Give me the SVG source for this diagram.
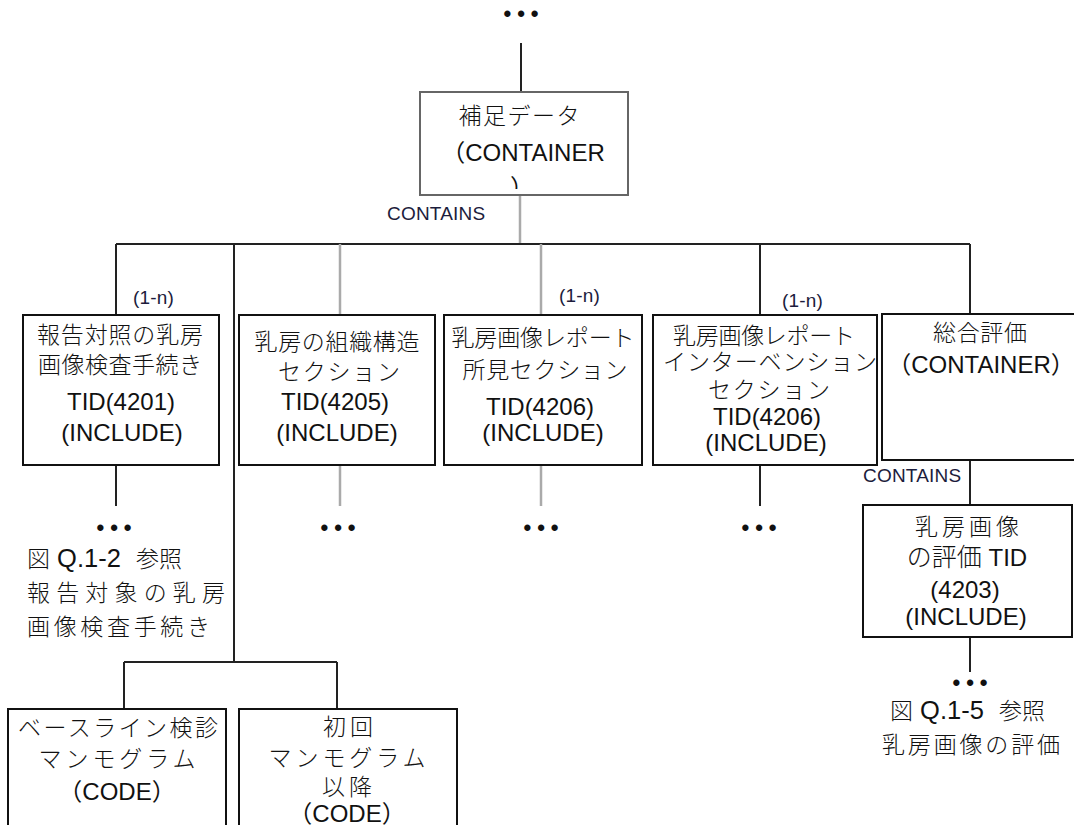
<svg xmlns="http://www.w3.org/2000/svg" width="1074" height="825" viewBox="0 0 1074 825">
<defs>
<style>
.bg{fill:#fff}
.box{fill:#fff;stroke:#111;stroke-width:2}
.gbox{fill:#fff;stroke:#666;stroke-width:2}
.ln{stroke:#222;stroke-width:2;fill:none}
.gl{stroke:#aaa;stroke-width:2.5;fill:none}
text{font-family:"Liberation Sans","Noto Sans CJK JP",sans-serif;fill:#111}
.t{font-size:24px;text-anchor:middle}
.j{font-size:23px;text-anchor:middle;font-weight:300}
.l{font-weight:300;font-size:23px}
.a{font-size:23px;font-weight:300}
.f{font-size:25.5px}
.s{font-size:19px;fill:#1c1c3c;letter-spacing:0.2px}
.d{font-size:22px;font-weight:bold;letter-spacing:6px;text-anchor:middle}
</style>
<clipPath id="clipMain"><rect x="420" y="92" width="208" height="97"/></clipPath>
</defs>
<rect class="bg" x="0" y="0" width="1074" height="825"/>

<g id="connectors">
<line class="ln" x1="521" y1="43" x2="521" y2="92"/>
<line class="gl" x1="520" y1="195" x2="520" y2="244"/>
<line class="ln" x1="116" y1="244" x2="970" y2="244"/>
<line class="ln" x1="116" y1="244" x2="116" y2="315"/>
<line class="ln" x1="234" y1="244" x2="234" y2="662"/>
<line class="ln" x1="124" y1="662" x2="337" y2="662"/>
<line class="ln" x1="124" y1="662" x2="124" y2="709"/>
<line class="ln" x1="337" y1="662" x2="337" y2="709"/>
<line class="gl" x1="340" y1="244" x2="340" y2="315"/>
<line class="gl" x1="541" y1="244" x2="541" y2="315"/>
<line class="ln" x1="760" y1="244" x2="760" y2="315"/>
<line class="ln" x1="970" y1="244" x2="970" y2="314"/>
<line class="ln" x1="116" y1="465" x2="116" y2="506"/>
<line class="gl" x1="340" y1="465" x2="340" y2="506"/>
<line class="gl" x1="541" y1="465" x2="541" y2="506"/>
<line class="ln" x1="760" y1="465" x2="760" y2="506"/>
<line class="ln" x1="970" y1="460" x2="970" y2="505"/>
<line class="ln" x1="970" y1="637" x2="970" y2="672"/>
<text class="s" x="387" y="220">CONTAINS</text>
<text class="s" x="863" y="482">CONTAINS</text>
<text class="s" x="133" y="304">(1-n)</text>
<text class="s" x="559" y="302">(1-n)</text>
<text class="s" x="782" y="307">(1-n)</text>
</g>

<g id="dots">
<text class="d" x="524" y="21">•••</text>
<text class="d" x="117" y="535">•••</text>
<text class="d" x="341" y="535">•••</text>
<text class="d" x="544" y="535">•••</text>
<text class="d" x="762" y="535">•••</text>
<text class="d" x="973" y="690">•••</text>
</g>

<g id="node-main">
<rect class="gbox" x="420" y="92" width="208" height="103"/>
<text class="j" x="519" y="124" textLength="121">補足データ</text>
<text class="t" x="523" y="161">（CONTAINER</text>
<text class="t" x="522" y="196" clip-path="url(#clipMain)">）</text>
</g>

<g id="node-4201">
<rect class="box" x="23" y="315" width="196" height="150"/>
<text class="j" x="120" y="343" textLength="166">報告対照の乳房</text>
<text class="j" x="120" y="373" textLength="164">画像検査手続き</text>
<text class="t" x="121" y="410">TID(4201)</text>
<text class="t" x="122" y="441">(INCLUDE)</text>
</g>

<g id="node-4205">
<rect class="box" x="239" y="315" width="196" height="150"/>
<text class="j" x="337" y="350" textLength="165">乳房の組織構造</text>
<text class="j" x="339" y="380" textLength="122">セクション</text>
<text class="t" x="335" y="410">TID(4205)</text>
<text class="t" x="337" y="441">(INCLUDE)</text>
</g>

<g id="node-4206a">
<rect class="box" x="444" y="315" width="198" height="150"/>
<text class="j" x="543" y="346" textLength="183">乳房画像レポート</text>
<text class="j" x="545" y="378" textLength="165">所見セクション</text>
<text class="t" x="540" y="415">TID(4206)</text>
<text class="t" x="543" y="441">(INCLUDE)</text>
</g>

<g id="node-4206b">
<rect class="box" x="653" y="315" width="224" height="150"/>
<text class="j" x="764" y="344" textLength="182">乳房画像レポート</text>
<text class="j" x="770" y="370" textLength="214">インターベンション</text>
<text class="j" x="769" y="398" textLength="122">セクション</text>
<text class="t" x="767" y="425">TID(4206)</text>
<text class="t" x="766" y="451">(INCLUDE)</text>
</g>

<g id="node-overall">
<rect class="box" x="882" y="314" width="200" height="146"/>
<text class="j" x="980" y="341" textLength="94">総合評価</text>
<text class="t" x="981" y="373">（CONTAINER）</text>
</g>

<g id="node-4203">
<rect class="box" x="863" y="505" width="209" height="132"/>
<text class="j" x="967" y="535" textLength="104">乳房画像</text>
<text class="t" x="967" y="566"><tspan class="l" style="font-size:25px">の評価</tspan> TID</text>
<text class="t" x="965" y="598">(4203)</text>
<text class="t" x="966" y="625">(INCLUDE)</text>
</g>

<g id="node-baseline">
<rect class="box" x="8" y="709" width="218" height="130"/>
<text class="j" x="118" y="736" textLength="200">ベースライン検診</text>
<text class="j" x="117" y="767" textLength="157">マンモグラム</text>
<text class="t" x="117" y="800">（CODE）</text>
</g>

<g id="node-subsequent">
<rect class="box" x="239" y="709" width="218" height="130"/>
<text class="j" x="348" y="735" textLength="50">初回</text>
<text class="j" x="347" y="766" textLength="157">マンモグラム</text>
<text class="j" x="347" y="795" textLength="50">以降</text>
<text class="t" x="347" y="822">（CODE）</text>
</g>

<g id="note-left">
<text class="f" x="27" y="567"><tspan class="l">図</tspan> Q.1-2 <tspan class="l" dx="8">参照</tspan></text>
<text class="a" x="27" y="601" textLength="198">報告対象の乳房</text>
<text class="a" x="27" y="635" textLength="183">画像検査手続き</text>
</g>

<g id="note-right">
<text class="f" x="890" y="719"><tspan class="l">図</tspan> Q.1-5 <tspan class="l" dx="8">参照</tspan></text>
<text class="a" x="882" y="753" textLength="178">乳房画像の評価</text>
</g>
</svg>
